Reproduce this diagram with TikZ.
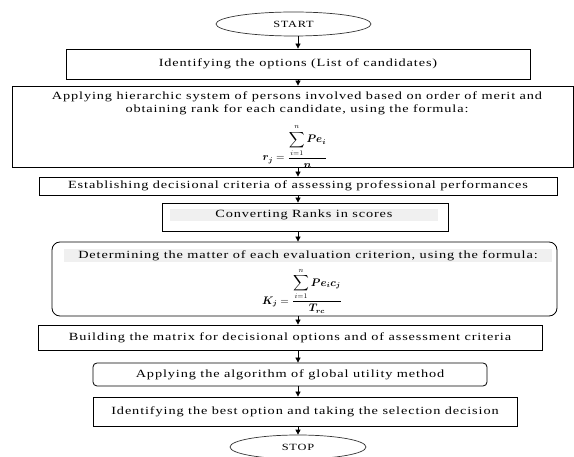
\documentclass[tikz,border=0pt]{standalone}
\usepackage{fontspec}
\usepackage{amsmath,bm}
\setmainfont{Liberation Serif}[FakeStretch=1.3,LetterSpace=8]
\usetikzlibrary{arrows.meta,shapes.geometric}
\begin{document}
\begin{tikzpicture}[x=1pt,y=-1pt,
 box/.style={draw=black,line width=0.8pt,inner sep=0pt,font=\fontsize{11}{13}\selectfont},
 rbox/.style={box,rounded corners=8pt},
 term/.style={draw=black!80,ellipse,line width=0.7pt,inner sep=0pt,font=\fontsize{9.5}{11}\selectfont},
 txt/.style={inner sep=0pt,font=\fontsize{11}{13}\selectfont},
 hl/.style={fill=black!6},
 fml/.style={inner sep=0pt,font=\fontsize{10.5}{12}\selectfont},
 flow/.style={-{Triangle[width=5pt,length=5pt]},line width=0.8pt}]
\useasboundingbox (0,0) rectangle (574,457);
\coordinate (ax) at (298,0);
\node[term,minimum width=155pt,minimum height=24pt] (start) at (293.5,24) {START};
\node[box,minimum width=464pt,minimum height=30pt] (b1) at (298,64) {Identifying the options (List of candidates)};
\node[box,minimum width=561pt,minimum height=81pt] (b2) at (292.5,126.5) {};
\node[txt] (t2a) at (297,97) {Applying hierarchic system of persons involved based on order of merit and};
\node[txt] (t2b) at (297,109.5) {obtaining rank for each candidate, using the formula:};
\node[fml] (f2) at (295,146.5) {$\bm{r_j} = \dfrac{\displaystyle\sum_{i=1}^{n} \bm{Pe_i}}{\bm{n}}$};
\node[box,minimum width=518pt,minimum height=18pt] (b3) at (298,186) {Establishing decisional criteria of assessing professional performances};
\node[box,minimum width=286pt,minimum height=28pt] (b4) at (305,217) {};
\node[txt,hl,minimum width=268pt,minimum height=12pt] (t4) at (304,215) {Converting Ranks in scores};
\node[rbox,minimum width=505pt,minimum height=74pt] (b5) at (304.5,279) {};
\node[txt,hl,minimum width=488pt,minimum height=13pt] (t5) at (308,255.5) {Determining the matter of each evaluation criterion, using the formula:};
\node[fml] (f5) at (302,291) {$\bm{K_j} = \dfrac{\displaystyle\sum_{i=1}^{n} \bm{Pe_i c_j}}{\bm{T_{rc}}}$};
\node[box,minimum width=504pt,minimum height=25pt] (b6) at (290,337.5) {Building the matrix for decisional options and of assessment criteria};
\node[rbox,rounded corners=4pt,minimum width=394pt,minimum height=23pt] (b7) at (290,374.5) {Applying the algorithm of global utility method};
\node[box,minimum width=424pt,minimum height=29pt] (b8) at (305,411.5) {Identifying the best option and taking the selection decision};
\node[term,minimum width=136pt,minimum height=24pt] (stop) at (298,447) {STOP};
\draw[flow] (start.south -| ax) -- (b1.north -| ax);
\draw[flow] (b1.south -| ax) -- (b2.north -| ax);
\draw[flow] (b2.south -| ax) -- (b3.north -| ax);
\draw[flow] (b3.south -| ax) -- (b4.north -| ax);
\draw[flow] (b4.south -| ax) -- (b5.north -| ax);
\draw[flow] (b5.south -| ax) -- (b6.north -| ax);
\draw[flow] (b6.south -| ax) -- (b7.north -| ax);
\draw[flow] (b7.south -| ax) -- (b8.north -| ax);
\draw[flow] (b8.south -| ax) -- (stop.north -| ax);
\end{tikzpicture}
\end{document}
